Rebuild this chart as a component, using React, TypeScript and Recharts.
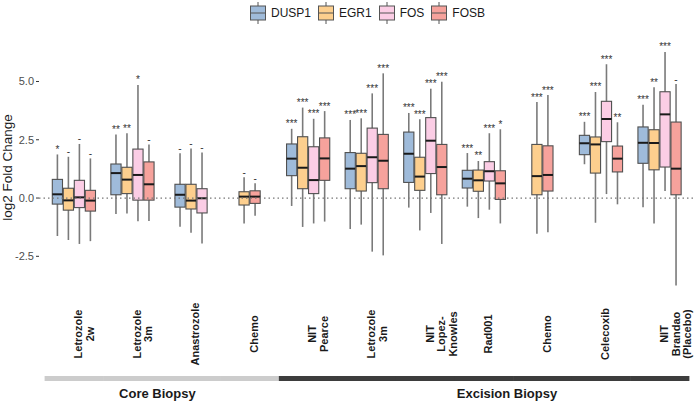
import React from 'react';
import { ComposedChart, Bar, XAxis, YAxis, ReferenceLine, Legend } from 'recharts';

const categories = [
  'Letrozole\n2w', 'Letrozole\n3m', 'Anastrozole', 'Chemo', 'NIT\nPearce', 'Letrozole\n3m',
  'NIT\nLopez-\nKnowles', 'Rad001', 'Chemo', 'Celecoxib', 'NIT\nBrandao\n(Placebo)',
];
const biopsy = ['core', 'core', 'core', 'core', 'excision', 'excision', 'excision', 'excision', 'excision', 'excision', 'excision'];

const genes = ['DUSP1', 'EGR1', 'FOS', 'FOSB'];
const geneColors = ['#9fbbda', '#fdcf8e', '#fbcde5', '#f6a29c'];

// [lower whisker, Q1, median, Q3, upper whisker] per category, null = not measured
type Box = [number, number, number, number, number] | null;
const dusp1: Box[] = [
  [-1.63, -0.26, 0.16, 0.80, 1.87], [-0.69, 0.14, 1.07, 1.46, 2.73], [-1.23, -0.39, 0.14, 0.59, 1.92], null,
  [-0.34, 0.96, 1.69, 2.32, 2.97], [-1.33, 0.40, 1.26, 1.95, 3.35], [-0.41, 0.67, 1.90, 2.83, 3.65],
  [-0.37, 0.43, 0.83, 1.19, 1.93], null, [1.45, 1.86, 2.35, 2.69, 3.27], [-0.39, 1.49, 2.37, 3.05, 4.00],
];
const egr1: Box[] = [
  [-1.80, -0.52, -0.10, 0.42, 1.77], [-0.66, 0.19, 0.79, 1.32, 2.78], [-1.49, -0.47, -0.11, 0.59, 2.12],
  [-1.09, -0.30, 0.06, 0.27, 0.89], [-1.24, 0.40, 1.30, 2.63, 3.88], [-1.14, 0.30, 1.37, 1.92, 3.42],
  [-1.39, 0.33, 0.92, 1.75, 3.38], [-0.86, 0.29, 0.76, 1.20, 1.59], [-1.53, 0.14, 0.94, 2.30, 4.12],
  [-1.06, 1.07, 2.30, 2.62, 4.55], [-1.09, 1.21, 2.36, 2.93, 4.75],
];
const fos: Box[] = [
  [-1.97, -0.41, 0.03, 0.76, 2.32], [-1.00, -0.09, 0.99, 2.10, 4.85], [-1.95, -0.64, -0.01, 0.40, 1.95], null,
  [-1.09, 0.19, 0.77, 2.20, 3.40], [-2.30, 0.66, 1.75, 3.00, 4.49], [-0.64, 1.05, 2.46, 3.45, 4.69],
  [-0.50, 0.73, 1.15, 1.56, 2.78], null, [0.17, 2.42, 3.39, 4.15, 5.74], [0.30, 1.33, 3.59, 4.56, 6.27],
];
const fosb: Box[] = [
  [-1.85, -0.56, -0.11, 0.33, 1.70], [-0.99, -0.09, 0.59, 1.55, 2.30], null, [-0.76, -0.23, 0.06, 0.31, 0.63],
  [-1.01, 0.76, 1.70, 2.58, 3.73], [-2.46, 0.40, 1.60, 2.73, 5.35], [-1.97, 0.14, 1.33, 2.30, 4.99],
  [-1.09, -0.06, 0.63, 1.17, 2.95], [-1.47, 0.30, 0.99, 2.24, 4.42], [-0.27, 1.12, 1.69, 2.23, 3.25],
  [-3.75, 0.14, 1.26, 3.26, 4.89],
];
const dusp1Sig = ['*', '**', '-', '', '***', '***', '***', '***', '', '***', '***'];
const egr1Sig = ['-', '**', '-', '-', '***', '***', '***', '**', '***', '***', '**'];
const fosSig = ['-', '*', '-', '', '***', '***', '***', '***', '', '***', '***'];
const fosbSig = ['-', '-', '', '-', '***', '***', '***', '*', '***', '**', '-'];

const yTicks = [-2.5, 0, 2.5, 5];

const stats = [dusp1, egr1, fos, fosb];
const sigs = [dusp1Sig, egr1Sig, fosSig, fosbSig];

const rows = categories.map((c, i) => {
  const row: any = { key: `c${i}`, idx: i };
  stats.forEach((s, g) => {
    const b = s[i];
    row[genes[g]] = b ? [b[0], b[4]] : null;
  });
  return row;
});

const FONT = '"Liberation Sans", Arial, sans-serif';
const SLOT = 11;

const makeBox = (g: number) => (props: any) => {
  const { x, y, width, height, payload } = props;
  const i = payload?.idx;
  const b = i == null ? null : stats[g][i];
  if (!b || !height) return <g />;
  const [lo, q1, med, q3, hi] = b;
  const top = Math.min(y, y + height);
  const k = Math.abs(height) / (hi - lo);
  const py = (v: number) => top + (hi - v) * k;
  const present = stats.map((s, j) => (s[i] ? j : -1)).filter((j) => j >= 0);
  const rank = present.indexOf(g);
  const center = x + width / 2 + (1.5 - g) * SLOT;
  const cx = center + (rank - (present.length - 1) / 2) * SLOT;
  const bw = SLOT - 0.8;
  return (
    <g>
      <line x1={cx} x2={cx} y1={py(hi)} y2={py(lo)} stroke="#7a7a7a" strokeWidth={1.6} />
      <rect x={cx - bw / 2} y={py(q3)} width={bw} height={py(q1) - py(q3)} fill={geneColors[g]} stroke="#505050" strokeWidth={1.1} />
      <line x1={cx - bw / 2} x2={cx + bw / 2} y1={py(med)} y2={py(med)} stroke="#1a1a1a" strokeWidth={2} />
      <text x={cx} y={py(hi) - 1.5} textAnchor="middle" fontSize={10} fontFamily={FONT} fill="#333">{sigs[g][i]}</text>
    </g>
  );
};

const XTick = (props: any) => {
  const { x, payload } = props;
  const i = payload?.index ?? props.index;
  const half = payload?.offset || 29.3;
  const lines = categories[i].split('\n');
  const core = biopsy[i] === 'core';
  let groupLabel = null;
  if (i === 1) groupLabel = { text: 'Core Biopsy', dx: 0.84 * half };
  if (i === 7) groupLabel = { text: 'Excision Biopsy', dx: 0.78 * half };
  return (
    <g>
      {lines.map((l, j) => (
        <text key={j} transform={`translate(${x + 8 + j * 11.7}, 334) rotate(-90)`} textAnchor="middle"
          fontSize={11} fontWeight="bold" fontFamily={FONT} fill="#1a1a1a">{l}</text>
      ))}
      <rect x={x - half - 0.3} y={376} width={half * 2 + 0.6} height={5} fill={core ? '#cccccc' : '#3d3d3d'} />
      {groupLabel && (
        <text x={x + groupLabel.dx} y={397.5} textAnchor="middle" fontSize={13} fontWeight="bold" fontFamily={FONT} fill="#1a1a1a">
          {groupLabel.text}
        </text>
      )}
    </g>
  );
};

const LegendContent = () => (
  <div style={{ display: 'flex', justifyContent: 'center', alignItems: 'center', fontSize: 12, fontFamily: FONT, color: '#1a1a1a' }}>
    {genes.map((g, j) => (
      <div key={g} style={{ display: 'flex', alignItems: 'center', marginRight: j < 3 ? 6 : 0 }}>
        <svg width={18} height={24}>
          <line x1={9} x2={9} y1={1} y2={23} stroke="#555" strokeWidth={1} />
          <rect x={1.5} y={5} width={15} height={14} fill={geneColors[j]} stroke="#555" strokeWidth={1} />
          <line x1={1.5} x2={16.5} y1={12} y2={12} stroke="#555" strokeWidth={1} />
        </svg>
        <span style={{ marginLeft: 4 }}>{g}</span>
      </div>
    ))}
  </div>
);

export default function App() {
  return (
    <div style={{ position: 'absolute', left: 0, top: 0, width: 697, height: 402, background: '#fff', fontFamily: FONT }}>
      <ComposedChart width={697} height={402} data={rows} margin={{ top: 40, right: 2, bottom: 0, left: 0 }} barGap={0} barSize={11}>
        <XAxis dataKey="key" height={107} axisLine={false} tickLine={false} interval={0} padding={{ left: 5.9, right: 5.9 }} tick={<XTick />} />
        <YAxis type="number" width={39} domain={[-4.16, 6.78]} allowDataOverflow ticks={yTicks} axisLine={false}
          tickSize={3} tickLine={{ stroke: '#333' }} tickFormatter={(v: number) => v.toFixed(1)}
          tick={{ fontSize: 11, fill: '#4d4d4d', fontFamily: FONT }}
          label={(p: any) => {
            const vb = p?.viewBox;
            const cy = vb ? vb.y + vb.height / 2 : 168;
            return (
              <text transform={`translate(12, ${cy}) rotate(-90)`} textAnchor="middle" fontSize={13.5} fontFamily={FONT} fill="#1a1a1a">
                log2 Fold Change
              </text>
            );
          }} />
        <ReferenceLine y={0} stroke="#777" strokeWidth={1.2} strokeDasharray="1.5 3" />
        <Legend verticalAlign="middle" align="center" content={<LegendContent />}
          wrapperStyle={{ position: 'absolute', top: 1, left: 39, width: 656 }} />
        {genes.map((g, j) => (
          <Bar key={g} dataKey={g} name={g} fill={geneColors[j]} isAnimationActive={false} shape={makeBox(j)} />
        ))}
      </ComposedChart>
    </div>
  );
}
